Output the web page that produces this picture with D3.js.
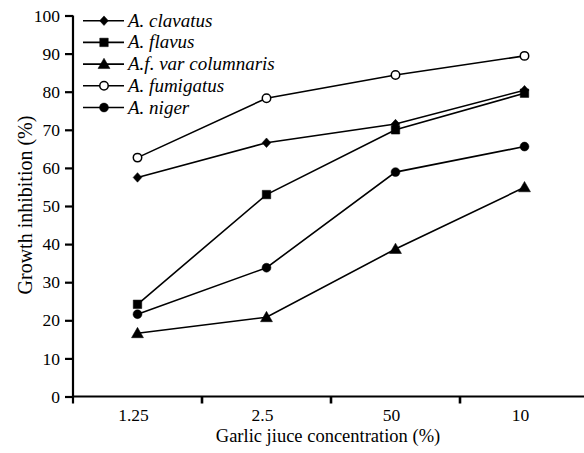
<!DOCTYPE html>
<html>
<head>
<meta charset="utf-8">
<script src="https://cdn.jsdelivr.net/npm/d3@7"></script>
<style>
  html, body { margin: 0; padding: 0; background: #fff; }
  svg { display: block; font-family: "Liberation Serif", "Times New Roman", serif; }
</style>
</head>
<body>
<svg id="chart" width="584" height="453"></svg>
<script>
// Garlic juice concentrations (category axis, in drawing order)
const concentrations = ["1.25", "2.5", "50", "10"];

// Growth inhibition (%) for each Aspergillus species
const clavatus   = [57.5, 66.6, 71.5, 80.4];
const flavus     = [24.2, 53.0, 70.0, 79.6];
const columnaris = [16.6, 20.8, 38.7, 54.9];
const fumigatus  = [62.7, 78.3, 84.4, 89.4];
const niger      = [21.6, 33.8, 58.9, 65.6];

const yTicks = [0, 10, 20, 30, 40, 50, 60, 70, 80, 90, 100];

const seriesNames = ["A. clavatus", "A. flavus", "A.f. var columnaris", "A. fumigatus", "A. niger"];
const seriesValues = [clavatus, flavus, columnaris, fumigatus, niger];
const seriesMarkers = ["diamond", "square", "triangle", "openCircle", "circle"];

const series = seriesNames.map((name, i) => ({
  name, marker: seriesMarkers[i], values: seriesValues[i]
}));

const svg = d3.select("#chart");
const x0 = 73, yBase = 396.5, yTop = 15.5;

const x = d3.scaleBand().domain(concentrations).range([x0, x0 + 4 * 129]).paddingInner(0).paddingOuter(0);
const y = d3.scaleLinear().domain([0, 100]).range([yBase, yTop]);

// Marker shapes
const symbolFor = {
  diamond: d3.symbol().type(d3.symbolDiamond2).size(48),
  square: d3.symbol().type(d3.symbolSquare).size(72),
  triangle: d3.symbol().type(d3.symbolTriangle).size(62),
  openCircle: d3.symbol().type(d3.symbolCircle).size(56),
  circle: d3.symbol().type(d3.symbolCircle).size(62)
};
function drawMarker(g, kind, cx, cy) {
  const dy = kind === "triangle" ? 1 : 0;
  g.append("path")
    .attr("d", symbolFor[kind]())
    .attr("transform", kind === "diamond"
      ? `translate(${cx},${cy}) scale(1,1.1)`
      : `translate(${cx},${cy + dy})`)
    .attr("fill", kind === "openCircle" ? "#fff" : "#000")
    .attr("stroke", "#000")
    .attr("stroke-width", kind === "openCircle" ? 1.5 : 0.5);
}

// Axes
const yAxis = d3.axisLeft(y).tickValues(yTicks).tickSize(8).tickPadding(5);
const gy = svg.append("g").attr("transform", `translate(${x0},0)`).call(yAxis);
gy.select(".domain").attr("stroke-width", 2.2).attr("d", `M0,${yTop}V${yBase + 7}`);
gy.selectAll(".tick line").attr("stroke-width", 2.2);
gy.selectAll(".tick text").attr("font-size", 17.5).attr("font-family", "Liberation Serif").attr("fill", "#000");

const xAxis = d3.axisBottom(x).tickSize(0).tickPadding(12);
const gx = svg.append("g").attr("transform", `translate(0,${yBase})`).call(xAxis);
gx.select(".domain").attr("stroke-width", 2.2).attr("d", `M${x0 - 1},0H${x0 + 4 * 129}`);
gx.selectAll(".tick text").attr("font-size", 17.5).attr("font-family", "Liberation Serif")
  .attr("fill", "#000").attr("dx", -4);

// Boundary ticks between categories
gx.selectAll(".bound")
  .data(concentrations.slice(1).concat(["end"]))
  .join("line")
  .attr("x1", (d, i) => x0 + (i + 1) * x.bandwidth())
  .attr("x2", (d, i) => x0 + (i + 1) * x.bandwidth())
  .attr("y1", 0).attr("y2", 7)
  .attr("stroke", "#000").attr("stroke-width", 2.6);

// Axis titles
svg.append("text")
  .attr("x", 328).attr("y", 441.5)
  .attr("text-anchor", "middle")
  .attr("font-size", 18.5)
  .text("Garlic jiuce concentration (%)");

svg.append("text")
  .attr("transform", "translate(32,205) rotate(-90)")
  .attr("text-anchor", "middle")
  .attr("font-size", 20)
  .text("Growth inhibition (%)");

// Series lines and markers
const cx = d => x(d) + x.bandwidth() / 2;
const line = d3.line().x((v, i) => cx(concentrations[i])).y(v => y(v));

series.forEach(s => {
  svg.append("path")
    .attr("d", line(s.values))
    .attr("fill", "none").attr("stroke", "#000").attr("stroke-width", 1.6);
});
series.forEach(s => {
  const g = svg.append("g");
  s.values.forEach((v, i) => drawMarker(g, s.marker, cx(concentrations[i]), y(v)));
});

// Legend
const legend = svg.append("g");
series.forEach((s, i) => {
  const ly = 20.7 + i * 21.7;
  legend.append("line").attr("x1", 83).attr("x2", 124).attr("y1", ly).attr("y2", ly)
    .attr("stroke", "#000").attr("stroke-width", 1.6);
  drawMarker(legend, s.marker, 104, ly);
  legend.append("text").attr("x", 128).attr("y", ly + 6)
    .attr("font-size", 19).attr("font-style", "italic").text(s.name);
});
</script>
</body>
</html>
